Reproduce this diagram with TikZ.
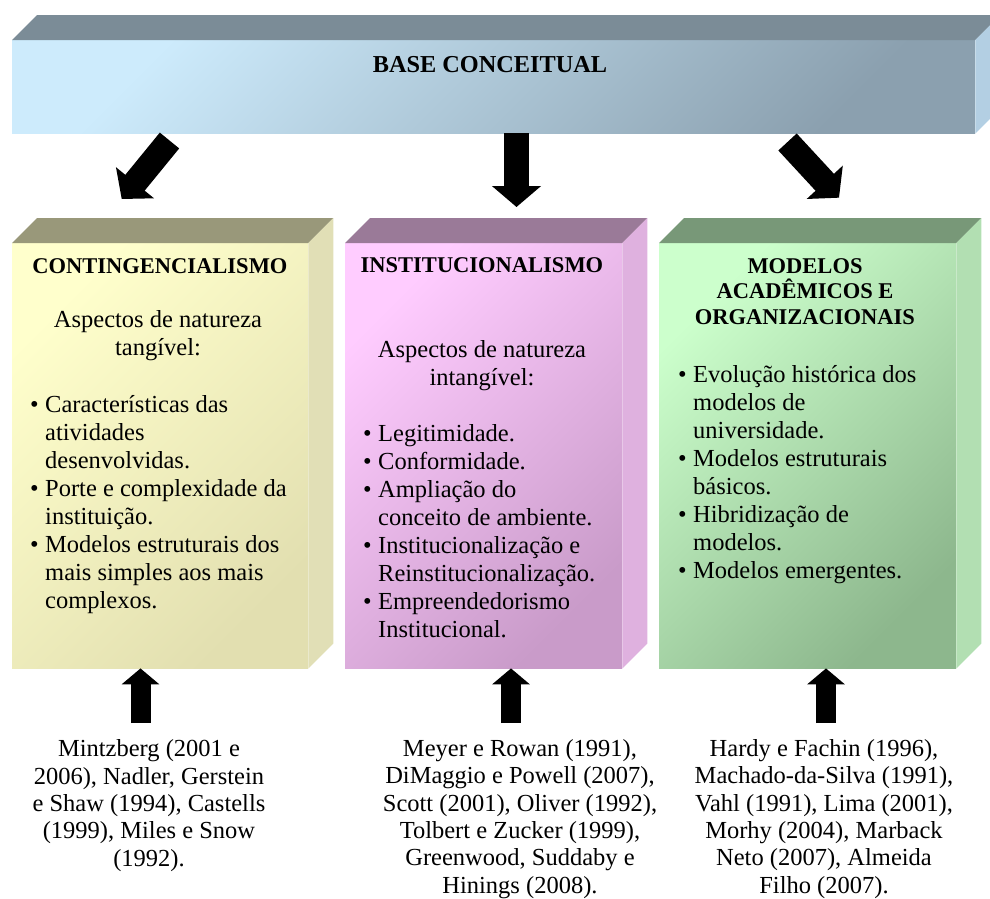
\documentclass[tikz,border=0pt]{standalone}
\usepackage{fontspec}
\setmainfont{Liberation Serif}
\usetikzlibrary{arrows.meta}

\definecolor{baseLt}{HTML}{CDEBFC}
\definecolor{baseDk}{HTML}{8BA0AF}
\definecolor{baseTop}{HTML}{7B8C97}
\definecolor{baseSide}{HTML}{B3CFE3}
\definecolor{contLt}{HTML}{FFFFCC}
\definecolor{contDk}{HTML}{E2DFB0}
\definecolor{contTop}{HTML}{99987A}
\definecolor{contSide}{HTML}{E1DFB6}
\definecolor{instLt}{HTML}{FFCCFF}
\definecolor{instDk}{HTML}{C99BC9}
\definecolor{instTop}{HTML}{9A7A98}
\definecolor{instSide}{HTML}{DFB1DF}
\definecolor{modLt}{HTML}{CCFFCC}
\definecolor{modDk}{HTML}{8DB78D}
\definecolor{modTop}{HTML}{789878}
\definecolor{modSide}{HTML}{B2DFB2}

\newcommand{\itm}{\makebox[15pt][l]{\textbullet}}
\newcommand{\cnt}{\hspace*{15pt}}

\begin{document}
\begin{tikzpicture}[
                      x = 1pt,
                      y = -1pt,
    face/.style 2 args = {anchor=north west, inner sep=0pt,
                          top color=#1, bottom color=#2, shading angle=45},
             ttl/.style = {font=\fontsize{22.5}{25.5}\selectfont\bfseries,
                          align=center, inner sep=0pt, anchor=base},
             txt/.style = {font=\fontsize{24.5}{28}\selectfont,
                          align=center, inner sep=0pt, anchor=base},
             lst/.style = {font=\fontsize{24.5}{28}\selectfont,
                          align=left, inner sep=0pt, anchor=base west},
             ref/.style = {font=\fontsize{24.5}{27.3}\selectfont,
                          align=center, inner sep=0pt, anchor=base},
        bigarrow/.style = {line width=25pt, -{Triangle[width=48pt,length=21pt]}},
         uparrow/.style = {line width=20pt, -{Triangle[width=37pt,length=16pt]}},
                     ]
\useasboundingbox (0,0) rectangle (990,898);

% front faces
\node[face={baseLt}{baseDk}, minimum width=963pt, minimum height=93pt] (base) at (12,40) {};
\node[face={contLt}{contDk}, minimum width=296pt, minimum height=425pt] (cont) at (12,243) {};
\node[face={instLt}{instDk}, minimum width=277pt, minimum height=425pt] (inst) at (345,243) {};
\node[face={modLt}{modDk}, minimum width=297pt, minimum height=425pt] (mod) at (659,243) {};

% top and side faces
\foreach \bx/\col in {base/base, cont/cont, inst/inst, mod/mod}{
  \fill[\col Top] (\bx.north west) -- ([shift={(25pt,25pt)}]\bx.north west)
      -- ([shift={(25pt,25pt)}]\bx.north east) -- (\bx.north east) -- cycle;
  \fill[\col Side] (\bx.north east) -- ([shift={(25pt,25pt)}]\bx.north east)
      -- ([shift={(25pt,25pt)}]\bx.south east) -- (\bx.south east) -- cycle;
}

\node[ttl, font=\fontsize{24.3}{28}\selectfont\bfseries] (baseT) at (490,72) {BASE CONCEITUAL};

% contingencialismo (base = last line)
\node[ttl] (contT) at (160,273) {CONTINGENCIALISMO};
\node[txt] (contA) at (158,355) {Aspectos de natureza\\tangível:};
\node[lst] (contL) at (30,608) {\itm Características das\\ \cnt atividades\\ \cnt desenvolvidas.\\
  \itm Porte e complexidade da\\ \cnt instituição.\\
  \itm Modelos estruturais dos\\ \cnt mais simples aos mais\\ \cnt complexos.};

% institucionalismo
\node[ttl] (instT) at (482,272) {INSTITUCIONALISMO};
\node[txt] (instA) at (482,385) {Aspectos de natureza\\intangível:};
\node[lst] (instL) at (363,637) {\itm Legitimidade.\\ \itm Conformidade.\\
  \itm Ampliação do\\ \cnt conceito de ambiente.\\
  \itm Institucionalização e\\ \cnt Reinstitucionalização.\\
  \itm Empreendedorismo\\ \cnt Institucional.};

% modelos
\node[ttl] (modT) at (805,324) {MODELOS\\ACADÊMICOS E\\ORGANIZACIONAIS};
\node[lst] (modL) at (678,578) {\itm Evolução histórica dos\\ \cnt modelos de\\ \cnt universidade.\\
  \itm Modelos estruturais\\ \cnt básicos.\\
  \itm Hibridização de\\ \cnt modelos.\\
  \itm Modelos emergentes.};

% referencias
\node[ref] (ref1) at (149,866) {Mintzberg (2001 e\\2006), Nadler, Gerstein\\e Shaw (1994), Castells\\(1999), Miles e Snow\\(1992).};
\node[ref] (ref2) at (520,893) {Meyer e Rowan (1991),\\DiMaggio e Powell (2007),\\Scott (2001), Oliver (1992),\\Tolbert e Zucker (1999),\\Greenwood, Suddaby e\\Hinings (2008).};
\node[ref] (ref3) at (824,893) {Hardy e Fachin (1996),\\Machado-da-Silva (1991),\\Vahl (1991), Lima (2001),\\Morhy (2004), Marback\\Neto (2007), Almeida\\Filho (2007).};

% setas
\coordinate (s1) at (169.5,140.5);
\coordinate (e1) at (121.7,199);
\coordinate (s2) at (516.5,133);
\coordinate (e2) at (516.5,207);
\coordinate (s3) at (787.5,142);
\coordinate (e3) at (839,197.7);
\draw[bigarrow] (s1) -- (e1);
\draw[bigarrow] (s2) -- (e2);
\draw[bigarrow] (s3) -- (e3);

\coordinate (u1) at (140.5,723);
\coordinate (u2) at (511,723);
\coordinate (u3) at (826,723);
\draw[uparrow] (u1) -- (u1 |- cont.south);
\draw[uparrow] (u2) -- (u2 |- inst.south);
\draw[uparrow] (u3) -- (u3 |- mod.south);
\end{tikzpicture}
\end{document}
